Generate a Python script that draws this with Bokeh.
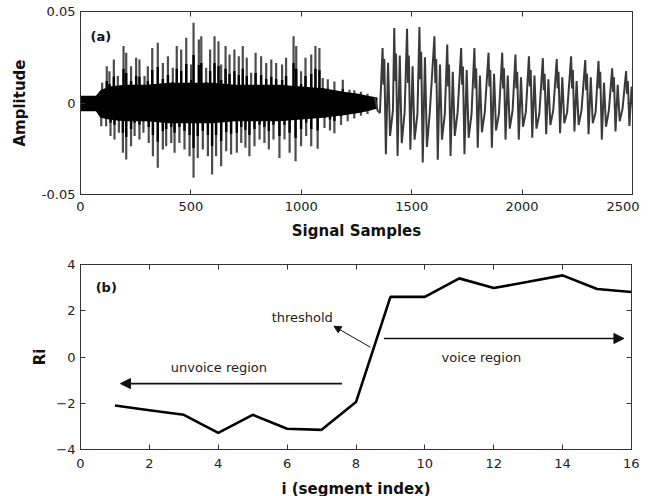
from bokeh.plotting import figure
from bokeh.layouts import column
from bokeh.models import Range1d, LinearAxis, FixedTicker, Arrow, NormalHead, Label
from bokeh.embed import file_html
from bokeh.resources import INLINE
from bokeh.core.properties import value

# ---------------- panel (a): speech signal ----------------
# dense unvoiced core envelope
core_x = [0, 70, 90, 130, 200, 300, 400, 500, 600, 700, 800, 900, 1000, 1100, 1200, 1260, 1300, 1345]
core_hi = [0.004, 0.004, 0.007, 0.009, 0.010, 0.010, 0.011, 0.011, 0.011, 0.010, 0.010, 0.010, 0.009, 0.008, 0.006, 0.005, 0.004, 0.003]
core_lo = [-0.0045, -0.0045, -0.008, -0.009, -0.010, -0.010, -0.011, -0.011, -0.011, -0.010, -0.010, -0.010, -0.009, -0.008, -0.0065, -0.0055, -0.0045, -0.003]

# unvoiced spikes (positive)
up_x = [98, 119, 131, 151, 169, 195, 207, 229, 252, 267, 290, 305, 325, 350, 373, 396, 418, 436, 456, 479,
        501, 512, 536, 547, 569, 587, 607, 625, 637, 657, 675, 697, 717, 735, 753, 773, 793, 818, 841, 864,
        886, 913, 931, 965, 977, 999, 1019, 1045, 1064, 1082, 1097, 1120, 1150, 1188, 1218, 1240, 1270, 1300]
up_y = [0.0110, 0.0201, 0.0174, 0.0238, 0.0147, 0.0311, 0.0274, 0.0201, 0.0247, 0.0238, 0.0147, 0.0201, 0.0301, 0.0329, 0.0219, 0.0256, 0.0192, 0.0311, 0.0292, 0.0356,
        0.0210, 0.0438, 0.0347, 0.0365, 0.0192, 0.0292, 0.0365, 0.0338, 0.0210, 0.0311, 0.0265, 0.0292, 0.0256, 0.0311, 0.0247, 0.0165, 0.0274, 0.0256, 0.0219, 0.0238,
        0.0219, 0.0210, 0.0247, 0.0365, 0.0311, 0.0174, 0.0247, 0.0265, 0.0311, 0.0300, 0.0136, 0.0130, 0.0117, 0.0127, 0.0072, 0.0070, 0.0062, 0.0050]
# unvoiced spikes (negative)
dn_x = [94, 116, 136, 154, 174, 192, 207, 229, 245, 267, 285, 309, 328, 350, 373, 388, 411, 426, 448, 471,
        494, 512, 531, 554, 577, 596, 614, 637, 660, 682, 708, 728, 747, 765, 788, 811, 833, 853, 874, 901,
        924, 947, 974, 999, 1022, 1045, 1074, 1105, 1130, 1150, 1180, 1210, 1240, 1270, 1300]
dn_y = [-0.0127, -0.0127, -0.0181, -0.0199, -0.0163, -0.0272, -0.0309, -0.0236, -0.0181, -0.0199, -0.0163, -0.0218, -0.0291, -0.0354, -0.0254, -0.0236, -0.0218, -0.0272, -0.0218, -0.0254,
        -0.0291, -0.0409, -0.0300, -0.0254, -0.0291, -0.0391, -0.0291, -0.0345, -0.0263, -0.0281, -0.0272, -0.0218, -0.0245, -0.0291, -0.0236, -0.0199, -0.0218, -0.0254, -0.0199, -0.0300,
        -0.0199, -0.0272, -0.0318, -0.0236, -0.0181, -0.0236, -0.0250, -0.0137, -0.0150, -0.0165, -0.0120, -0.0100, -0.0085, -0.0070, -0.0060]

# onset of voicing
onset_x = [1333, 1345, 1356]
onset_y = [0.003, -0.004, -0.0055]

# voiced pitch periods: start sample and extrema within each period
v_t = [1368, 1421, 1479, 1535, 1603, 1661, 1724, 1784, 1848, 1910, 1970, 2031, 2094, 2157, 2222, 2286, 2346, 2408, 2471]
v_a = [0.030, 0.041, 0.0405, 0.0415, 0.0365, 0.032, 0.030, 0.030, 0.0275, 0.0275, 0.0265, 0.0255, 0.0245, 0.024, 0.0255, 0.0235, 0.023, 0.019, 0.0175]
v_d = [0.010, 0.012, 0.011, 0.013, 0.011, 0.009, 0.010, 0.008, 0.009, 0.008, 0.008, 0.009, 0.007, 0.008, 0.008, 0.007, 0.008, 0.006, 0.005]
v_a2 = [0.024, 0.027, 0.026, 0.028, 0.024, 0.021, 0.020, 0.019, 0.018, 0.019, 0.017, 0.018, 0.016, 0.017, 0.018, 0.016, 0.017, 0.014, 0.012]
v_b = [-0.028, -0.029, -0.0255, -0.0325, -0.031, -0.029, -0.028, -0.0245, -0.0245, -0.020, -0.020, -0.019, -0.017, -0.0165, -0.0155, -0.017, -0.020, -0.0155, -0.0125]
v_a3 = [0.022, 0.026, 0.020, 0.025, 0.021, 0.017, 0.018, 0.015, 0.016, 0.015, 0.014, 0.015, 0.013, 0.014, 0.012, 0.014, 0.011, 0.010, 0.009]
v_b3 = [-0.018, -0.022, -0.020, -0.024, -0.020, -0.018, -0.019, -0.016, -0.015, -0.014, -0.013, -0.014, -0.012, -0.011, -0.012, -0.011, -0.013, -0.010, -0.009]
v_c = [-0.004, -0.005, -0.006, -0.005, -0.006, -0.005, -0.006, -0.005, -0.006, -0.004, -0.005, -0.006, -0.004, -0.005, -0.004, -0.005, -0.004, -0.003, -0.004]
v_off = [0, 4, 8, 15, 25, 34, 47]  # sample offsets of the extrema inside a period

x_ticks_a = [0, 500, 1000, 1500, 2000, 2500]
y_ticks_a = [-0.05, 0, 0.05]

# ---------------- panel (b): Ri per segment ----------------
seg_i = [1, 2, 3, 4, 5, 6, 7, 8, 9, 10, 11, 12, 13, 14, 15, 16]
ri = [-2.1, -2.3, -2.5, -3.28, -2.5, -3.1, -3.15, -1.95, 2.6, 2.6, 3.4, 2.98, 3.25, 3.53, 2.94, 2.81]
x_ticks_b = [0, 2, 4, 6, 8, 10, 12, 14, 16]
y_ticks_b = [-4, -2, 0, 2, 4]

ann_text = ["threshold", "unvoice region", "voice region"]
ann_x = [5.55, 4.02, 11.64]
ann_y = [1.72, -0.47, -0.04]
ann_align = ["left", "center", "center"]

# arrows: (x_start, y_start, x_end, y_end)
arr_threshold = (8.42, 0.42, 7.36, 1.33)
arr_unvoice = (7.59, -1.15, 1.16, -1.15)
arr_voice = (8.81, 0.8, 15.78, 0.8)

TICK_FONT = "DejaVu Sans"
FRAME_COL = "#333333"


def style(p, xt, yt, xlabel, ylabel, ylab_over=None):
    p.xgrid.visible = False
    p.ygrid.visible = False
    p.outline_line_color = FRAME_COL
    p.outline_line_width = 1
    p.background_fill_color = "white"
    p.border_fill_color = "white"
    xa = p.below[0]
    ya = p.left[0]
    xa.axis_label = xlabel
    ya.axis_label = ylabel
    for ax in (xa, ya):
        ax.major_tick_in = 5
        ax.major_tick_out = 0
        ax.minor_tick_line_color = None
        ax.axis_line_color = FRAME_COL
        ax.major_tick_line_color = FRAME_COL
        ax.major_label_text_font = TICK_FONT
        ax.major_label_text_font_size = "13px"
        ax.major_label_text_color = "#222222"
        ax.axis_label_text_font = "DejaVu Sans"
        ax.axis_label_text_font_style = "bold"
        ax.axis_label_text_font_size = "15px"
        ax.axis_label_text_color = "#111111"
    xa.ticker = FixedTicker(ticks=xt)
    ya.ticker = FixedTicker(ticks=yt)
    if ylab_over:
        ya.major_label_overrides = ylab_over
    # box ticks on top and right (labels not drawn)
    for loc, tks in (("above", xt), ("right", yt)):
        ax = LinearAxis(ticker=FixedTicker(ticks=tks), major_tick_in=5, major_tick_out=0,
                        minor_tick_line_color=None, major_label_text_font_size="1px",
                        major_label_text_color=None, major_label_standoff=0,
                        axis_line_color=FRAME_COL, major_tick_line_color=FRAME_COL)
        p.add_layout(ax, loc)
    return xa, ya


# ---------- figure (a) ----------
p1 = figure(frame_width=552, frame_height=183, x_range=Range1d(0, 2500), y_range=Range1d(-0.05, 0.05),
            output_backend="svg", toolbar_location=None,
            min_border_left=79, min_border_right=8, min_border_top=11, min_border_bottom=46)
xa1, ya1 = style(p1, x_ticks_a, y_ticks_a, "Signal Samples", "Amplitude", {-0.05: "-0.05", 0: "0", 0.05: "0.05"})
xa1.major_label_standoff = 7
xa1.axis_label_standoff = 8
ya1.axis_label_standoff = 10

# unvoiced spikes: gray vertical strokes with a dark lower part merging into the dense core
p1.segment(x0=up_x, y0=[0] * len(up_x), x1=up_x, y1=up_y, line_color="#4d4d4d", line_width=2.2)
p1.segment(x0=dn_x, y0=[0] * len(dn_x), x1=dn_x, y1=dn_y, line_color="#4d4d4d", line_width=2.2)
p1.segment(x0=up_x, y0=[0] * len(up_x), x1=up_x, y1=[0.6 * v for v in up_y], line_color="black", line_width=2.4)
p1.segment(x0=dn_x, y0=[0] * len(dn_x), x1=dn_x, y1=[0.6 * v for v in dn_y], line_color="black", line_width=2.4)
p1.varea(x=core_x, y1=core_lo, y2=core_hi, fill_color="black")

vx = list(onset_x)
vy = list(onset_y)
for k, t in enumerate(v_t):
    vals = [v_a[k], v_d[k], v_a2[k], v_b[k], v_a3[k], v_b3[k], v_c[k]]
    for off, val in zip(v_off, vals):
        vx.append(t + off)
        vy.append(val)
p1.line(x=vx, y=vy, line_color="#3a3a3a", line_width=2.0)

p1.add_layout(Label(x=45, y=0.0366, text="(a)", text_font=TICK_FONT, text_font_style="bold",
                    text_font_size="13px", text_baseline="middle", text_color="#111111"))

# ---------- figure (b) ----------
p2 = figure(frame_width=551, frame_height=185, x_range=Range1d(0, 16), y_range=Range1d(-4, 4),
            output_backend="svg", toolbar_location=None,
            min_border_left=80, min_border_right=8, min_border_top=22, min_border_bottom=47)
xa2, ya2 = style(p2, x_ticks_b, y_ticks_b, "i (segment index)", "Ri")
xa2.major_label_standoff = 9
xa2.axis_label_standoff = 9
ya2.axis_label_standoff = 4

p2.line(x=seg_i, y=ri, line_color="black", line_width=2.6)

p2.text(x=ann_x, y=ann_y, text=ann_text, text_align=ann_align, text_baseline="middle",
        text_font=value(TICK_FONT), text_font_size="13px", text_color="#222222")

for (xs, ys, xe, ye), lw, sz in [(arr_threshold, 1.0, 7), (arr_unvoice, 1.6, 10), (arr_voice, 1.6, 10)]:
    p2.add_layout(Arrow(x_start=xs, y_start=ys, x_end=xe, y_end=ye, line_width=lw, line_color="#111111",
                        end=NormalHead(size=sz, fill_color="#111111", line_color="#111111", line_width=1)))

p2.add_layout(Label(x=0.44, y=3.0, text="(b)", text_font=TICK_FONT, text_font_style="bold",
                    text_font_size="13px", text_baseline="middle", text_color="#111111"))

layout = column(p1, p2, spacing=0)
open("out.html", "w").write(file_html(layout, INLINE))
